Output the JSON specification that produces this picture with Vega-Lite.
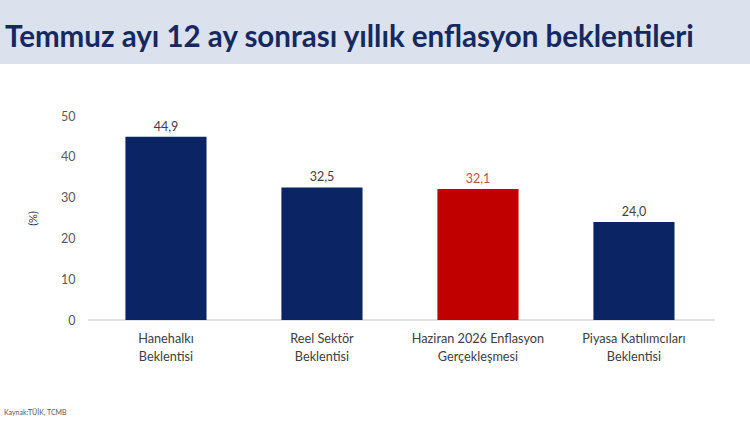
{
  "$schema": "https://vega.github.io/schema/vega-lite/v6.json",
  "background": "white",
  "padding": 0,
  "spacing": 46,
  "config": {
    "font": "Lato",
    "view": {"stroke": null}
  },
  "vconcat": [
    {
      "width": 750,
      "height": 64,
      "data": {"values": [{"band": 1}]},
      "title": {
        "text": "Temmuz ayı 12 ay sonrası yıllık enflasyon beklentileri",
        "anchor": "start",
        "frame": "group",
        "orient": "bottom",
        "baseline": "alphabetic",
        "offset": -17,
        "dx": 5,
        "font": "Lato",
        "fontSize": 29.5,
        "fontWeight": "bold",
        "color": "#16295e"
      },
      "mark": {"type": "rect", "color": "#dbe2ee"}
    },
    {
      "width": 715,
      "height": 204,
      "data": {
        "values": [
          {"kategori": "Hanehalkı|Beklentisi", "deger": 44.9, "etiket": "44,9", "grup": "beklenti"},
          {"kategori": "Reel Sektör|Beklentisi", "deger": 32.5, "etiket": "32,5", "grup": "beklenti"},
          {"kategori": "Haziran 2026 Enflasyon|Gerçekleşmesi", "deger": 32.1, "etiket": "32,1", "grup": "gerceklesme"},
          {"kategori": "Piyasa Katılımcıları|Beklentisi", "deger": 24.0, "etiket": "24,0", "grup": "beklenti"}
        ]
      },
      "title": {
        "text": "Kaynak:TÜİK, TCMB",
        "orient": "bottom",
        "anchor": "start",
        "frame": "group",
        "dx": 4,
        "offset": 46,
        "fontSize": 7,
        "fontWeight": "normal",
        "color": "#595959"
      },
      "encoding": {
        "x": {
          "field": "kategori",
          "type": "nominal",
          "sort": null,
          "title": null,
          "scale": {
            "domain": [
              "Hanehalkı|Beklentisi",
              "Reel Sektör|Beklentisi",
              "Haziran 2026 Enflasyon|Gerçekleşmesi",
              "Piyasa Katılımcıları|Beklentisi"
            ],
            "paddingInner": 0.48,
            "paddingOuter": 0.5317,
            "align": 0.756
          },
          "axis": {
            "labelAngle": 0,
            "labelExpr": "split(datum.label, '|')",
            "labelFontSize": 12.7,
            "labelColor": "#404040",
            "labelPadding": 12,
            "labelLineHeight": 18,
            "ticks": false,
            "domain": false
          }
        },
        "y": {
          "field": "deger",
          "type": "quantitative",
          "title": "(%)",
          "scale": {"domain": [0, 50]},
          "axis": {
            "values": [0, 10, 20, 30, 40, 50],
            "offset": -88,
            "grid": false,
            "domain": false,
            "ticks": false,
            "labelFontSize": 12.5,
            "labelColor": "#595959",
            "labelPadding": 13,
            "titleFontSize": 11,
            "titleFontWeight": "normal",
            "titleColor": "#1f3864",
            "titlePadding": 22
          }
        }
      },
      "layer": [
        {
          "data": {"values": [{"taban": 0}]},
          "mark": {"type": "rule", "color": "#d9d9d9", "strokeWidth": 1.5},
          "encoding": {
            "y": {"field": "taban", "type": "quantitative"},
            "x": {"datum": "Hanehalkı|Beklentisi", "bandPosition": -0.461},
            "x2": {"datum": "Piyasa Katılımcıları|Beklentisi", "bandPosition": 1.499}
          }
        },
        {
          "mark": {"type": "bar"},
          "encoding": {
            "color": {
              "field": "grup",
              "type": "nominal",
              "legend": null,
              "scale": {"domain": ["beklenti", "gerceklesme"], "range": ["#0b2463", "#c00000"]}
            }
          }
        },
        {
          "mark": {"type": "text", "baseline": "bottom", "dy": -3, "fontSize": 12.5},
          "encoding": {
            "text": {"field": "etiket"},
            "color": {
              "condition": {"test": "datum.grup === 'gerceklesme'", "value": "#c0504d"},
              "value": "#404040"
            }
          }
        }
      ]
    }
  ]
}
